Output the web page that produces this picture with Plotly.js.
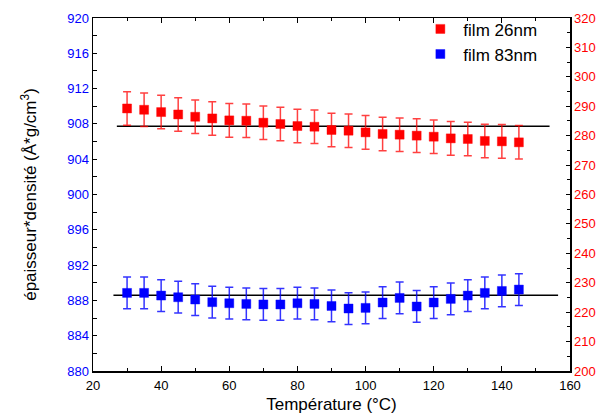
<!DOCTYPE html>
<html><head><meta charset="utf-8">
<script src="https://cdn.plot.ly/plotly-3.0.1.min.js"></script>
<style>html,body{margin:0;padding:0;background:#fff}#c{width:607px;height:419px}</style>
</head><body><div id="c"></div>
<script>
const temps = [30,35,40,45,50,55,60,65,70,75,80,85,90,95,100,105,110,115,120,125,130,135,140,145];
const film26 = [909.75,909.60,909.34,909.07,908.81,908.62,908.40,908.36,908.14,907.99,907.76,907.68,907.31,907.23,907.04,906.86,906.78,906.67,906.55,906.36,906.29,906.07,906.02,905.91];
const film26Err = [1.9,1.9,1.9,1.9,1.9,1.9,1.9,1.9,1.9,1.9,1.9,1.9,1.9,1.9,1.9,1.9,1.9,1.9,1.9,1.9,1.9,1.9,1.9,1.9];
const film83 = [888.85,888.85,888.55,888.36,888.10,887.80,887.68,887.60,887.54,887.54,887.68,887.60,887.37,887.08,887.15,887.76,888.28,887.31,887.76,888.17,888.55,888.85,889.07,889.23];
const film83Err = [1.8,1.8,1.8,1.8,1.8,1.8,1.8,1.8,1.8,1.8,1.8,1.8,1.8,1.8,1.8,1.8,1.8,1.8,1.8,1.8,1.8,1.8,1.8,1.8];
const fit26X = [27,154];
const fit26Y = [907.72,907.72];
const fit83X = [26,156.5];
const fit83Y = [888.59,888.59];
const names = ['film 26nm','film 83nm'];

const font = 'Liberation Sans, Arial, sans-serif';
const traces = [
  {x: fit26X, y: fit26Y, mode:'lines', line:{color:'#000', width:1.5}, showlegend:false, hoverinfo:'skip'},
  {x: fit83X, y: fit83Y, mode:'lines', line:{color:'#000', width:1.5}, showlegend:false, hoverinfo:'skip'},
  {x: temps, y: film26, name: names[0], mode:'markers', type:'scatter',
   marker:{symbol:'square', size:9, color:'#ff0000', line:{color:'rgba(255,0,0,0.4)', width:1}},
   error_y:{type:'data', array: film26Err, visible:true, color:'rgba(255,0,0,0.75)', thickness:1.5, width:4}},
  {x: temps, y: film83, name: names[1], mode:'markers', type:'scatter',
   marker:{symbol:'square', size:9, color:'#0000ff', line:{color:'rgba(0,0,255,0.4)', width:1}},
   error_y:{type:'data', array: film83Err, visible:true, color:'rgba(0,0,255,0.8)', thickness:1.5, width:4}},
  {x:[20], y:[200], yaxis:'y2', mode:'markers', marker:{opacity:0}, showlegend:false, hoverinfo:'skip'}
];
const layout = {
  width:607, height:419,
  margin:{l:93, r:37, t:17, b:48},
  paper_bgcolor:'#fff', plot_bgcolor:'#fff',
  font:{family:font, size:13, color:'#000'},
  showlegend:true,
  legend:{x:0.68, y:1.016, xanchor:'left', yanchor:'top', bgcolor:'rgba(0,0,0,0)', font:{size:17, family:font}, tracegroupgap:0, itemwidth:36},
  xaxis:{range:[20,160], dtick:20, tick0:20, showgrid:false, zeroline:false,
    showline:true, linecolor:'#000', linewidth:1.5, mirror:'ticks',
    ticks:'inside', ticklen:5, tickcolor:'#000', tickwidth:1,
    minor:{dtick:10, ticks:'inside', ticklen:3, tickcolor:'#000'},
    tickfont:{size:13, color:'#000'}, ticklabelstandoff:2,
    title:{text:'Température (°C)', font:{size:17}, standoff:6}},
  yaxis:{range:[880,920], dtick:4, tick0:880, showgrid:false, zeroline:false,
    showline:true, linecolor:'#000', linewidth:1.5,
    ticks:'inside', ticklen:4, tickcolor:'#000',
    minor:{dtick:2, ticks:'inside', ticklen:4, tickcolor:'#000'},
    tickfont:{size:13, color:'#0000ff'},
    title:{text:'épaisseur*densité (Å*g/cm<sup>3</sup>)', font:{size:17}, standoff:26}},
  yaxis2:{range:[200,320], dtick:10, tick0:200, overlaying:'y', side:'right', showgrid:false, zeroline:false,
    showline:true, linecolor:'#000', linewidth:1.5,
    ticks:'inside', ticklen:4, tickcolor:'#000',
    minor:{dtick:5, ticks:'inside', ticklen:3, tickcolor:'#000'},
    tickfont:{size:13, color:'#ff0000'}}
};
Plotly.newPlot('c', traces, layout, {displayModeBar:false, staticPlot:true});
</script></body></html>
